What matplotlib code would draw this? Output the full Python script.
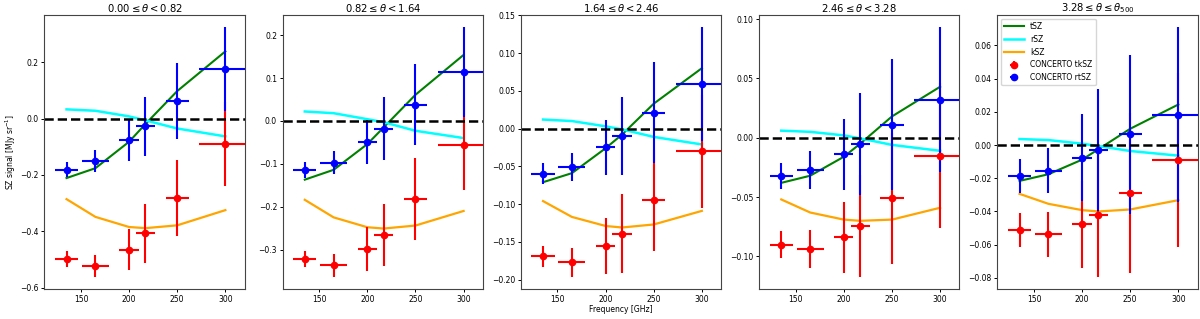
import matplotlib
matplotlib.use("Agg")
import matplotlib.pyplot as plt
import numpy as np

freq = [135, 165, 200, 217, 250, 300]
freq_err = [12, 14, 10, 10, 12, 27]

titles = [r"$0.00 \leq \theta < 0.82$", r"$0.82 \leq \theta < 1.64$",
          r"$1.64 \leq \theta < 2.46$", r"$2.46 \leq \theta < 3.28$",
          r"$3.28 \leq \theta \leq \theta_{500}$"]

tsz = [
    [-0.211, -0.176, -0.082, -0.019, 0.098, 0.239],
    [-0.137, -0.114, -0.054, -0.015, 0.061, 0.154],
    [-0.071, -0.059, -0.026, -0.008, 0.033, 0.080],
    [-0.038, -0.032, -0.016, -0.005, 0.018, 0.043],
    [-0.0216, -0.0176, -0.0088, -0.0025, 0.0098, 0.0244],
]
rsz = [
    [0.033, 0.028, 0.008, -0.006, -0.035, -0.063],
    [0.022, 0.018, 0.004, -0.003, -0.023, -0.040],
    [0.012, 0.010, 0.003, -0.001, -0.011, -0.021],
    [0.006, 0.005, 0.002, -0.0005, -0.006, -0.011],
    [0.0036, 0.0030, 0.0008, -0.0006, -0.0036, -0.0064],
]
ksz = [
    [-0.286, -0.349, -0.385, -0.389, -0.379, -0.325],
    [-0.184, -0.225, -0.248, -0.251, -0.244, -0.210],
    [-0.096, -0.117, -0.129, -0.131, -0.127, -0.109],
    [-0.052, -0.063, -0.069, -0.070, -0.069, -0.059],
    [-0.0294, -0.0354, -0.0392, -0.0400, -0.0388, -0.0332],
]
rtsz = [
    [-0.181, -0.150, -0.075, -0.027, 0.062, 0.175],
    [-0.114, -0.097, -0.049, -0.018, 0.038, 0.113],
    [-0.060, -0.051, -0.025, -0.010, 0.021, 0.059],
    [-0.032, -0.027, -0.014, -0.005, 0.011, 0.032],
    [-0.0186, -0.0154, -0.0076, -0.0030, 0.0064, 0.0182],
]
tksz = [
    [-0.498, -0.523, -0.465, -0.408, -0.282, -0.089],
    [-0.322, -0.337, -0.299, -0.266, -0.182, -0.057],
    [-0.169, -0.177, -0.156, -0.139, -0.095, -0.030],
    [-0.090, -0.094, -0.084, -0.074, -0.051, -0.015],
    [-0.0512, -0.0538, -0.0478, -0.0422, -0.0290, -0.0090],
]
sig = [
    [0.028, 0.038, 0.074, 0.105, 0.136, 0.149],
    [0.019, 0.026, 0.051, 0.073, 0.095, 0.105],
    [0.014, 0.019, 0.037, 0.052, 0.067, 0.075],
    [0.011, 0.016, 0.030, 0.043, 0.055, 0.061],
    [0.010, 0.0135, 0.026, 0.037, 0.048, 0.0526],
]

fig, axes = plt.subplots(1, 5, figsize=(12, 3.19), dpi=100)
fig.subplots_adjust(left=0.037, right=0.998, bottom=0.094, top=0.953, wspace=0.19)

for i, ax in enumerate(axes):
    ax.plot(freq, tsz[i], color='green', lw=1.5, label='tSZ')
    ax.plot(freq, rsz[i], color='cyan', lw=1.8, label='rSZ')
    ax.plot(freq, ksz[i], color='orange', lw=1.6, label='kSZ')
    ax.errorbar(freq, tksz[i], yerr=sig[i], xerr=freq_err, fmt='o', color='red',
                ms=4.5, elinewidth=1.5, label='CONCERTO tkSZ')
    ax.errorbar(freq, rtsz[i], yerr=sig[i], xerr=freq_err, fmt='o', color='blue',
                ms=4.5, elinewidth=1.5, label='CONCERTO rtSZ')
    ax.axhline(0, color='black', ls='--', lw=1.8)
    ax.set_xlim(112, 320)
    ax.set_xticks([150, 200, 250, 300])
    ax.set_title(titles[i], fontsize=7.2, pad=2.5)
    ax.tick_params(labelsize=5.5, length=2, width=0.7, pad=2)
    for s in ax.spines.values():
        s.set_color('#444444')
        s.set_linewidth(0.8)

axes[0].set_ylabel(r"SZ signal [MJy sr$^{-1}$]", fontsize=5.5, labelpad=2)
axes[2].set_xlabel("Frequency [GHz]", fontsize=5.5, labelpad=1)
axes[4].legend(loc='upper left', fontsize=5.5, handlelength=2.6)

fig.savefig("out.png", dpi=100)
